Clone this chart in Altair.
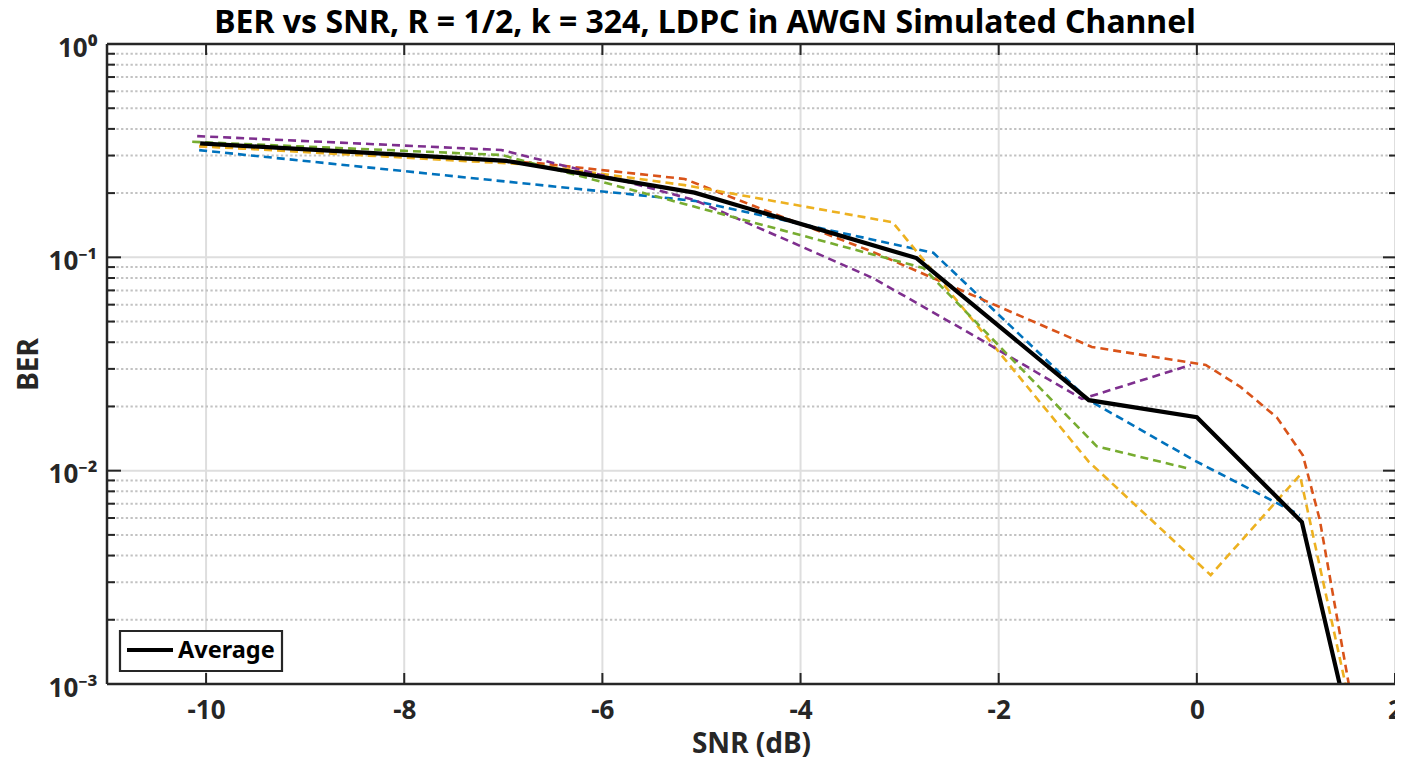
import altair as alt
import pandas as pd

# ---------------- data ----------------
chart_title = ["BER vs SNR, R = 1/2, k = 324, LDPC in AWGN Simulated Channel"]
x_ticks = [-10, -8, -6, -4, -2, 0, 2]
y_major = [1, 0.1, 0.01, 0.001]
y_labels = ["10⁰", "10⁻¹", "10⁻²", "10⁻³"]
y_minor = [0.9, 0.8, 0.7, 0.6, 0.5, 0.4, 0.3, 0.2,
           0.09, 0.08, 0.07, 0.06, 0.05, 0.04, 0.03, 0.02,
           0.009, 0.008, 0.007, 0.006, 0.005, 0.004, 0.003, 0.002]

blue_snr = [-10.07, -5.07, -2.66, -1.09, -0.03, 1.04]
blue_ber = [0.318, 0.184, 0.105, 0.0214, 0.0112, 0.0062]

orange_snr = [-10.07, -8.0, -6.67, -5.17, -4.47, -3.27, -1.06, 0.09, 0.44, 0.81, 1.07, 1.24, 1.56]
orange_ber = [0.332, 0.302, 0.277, 0.233, 0.174, 0.106, 0.038, 0.0313, 0.0247, 0.0177, 0.0118, 0.0059, 0.00085]

yellow_snr = [-10.07, -6.67, -5.17, -3.07, -1.09, 0.14, 1.04, 1.55]
yellow_ber = [0.332, 0.271, 0.218, 0.146, 0.0110, 0.00324, 0.00954, 0.00078]

purple_snr = [-10.09, -7.02, -5.97, -5.07, -4.07, -3.27, -2.26, -1.16, -0.06]
purple_ber = [0.370, 0.3185, 0.2405, 0.1856, 0.1167, 0.0800, 0.0432, 0.0217, 0.0313]

green_snr = [-10.14, -7.02, -2.76, -1.01, -0.09]
green_ber = [0.348, 0.302, 0.0891, 0.0130, 0.01025]

avg_snr = [-10.06, -8.0, -6.97, -5.07, -2.83, -1.09, 0.0, 1.06, 1.51]
avg_ber = [0.342, 0.302, 0.283, 0.201, 0.0992, 0.0214, 0.0178, 0.00574, 0.00073]

series_names = ["Run 1", "Run 2", "Run 3", "Run 4", "Run 5"]
series_colors = ["#0072BD", "#D95319", "#EDB120", "#7E2F8E", "#77AC30"]
legend_labels = ["Average"]

# ---------------- tables ----------------
rows = []
for name, xs, ys in zip(series_names,
                        [blue_snr, orange_snr, yellow_snr, purple_snr, green_snr],
                        [blue_ber, orange_ber, yellow_ber, purple_ber, green_ber]):
    for i, (xv, yv) in enumerate(zip(xs, ys)):
        rows.append({"series": name, "snr": xv, "ber": yv, "i": i})
runs = pd.DataFrame(rows)
avg = pd.DataFrame({"snr": avg_snr, "ber": avg_ber, "i": range(len(avg_snr))})
leg = pd.DataFrame({"label": legend_labels})
ttl = pd.DataFrame({"t": chart_title})

xt = pd.DataFrame({"v": x_ticks})
ymaj = pd.DataFrame({"v": y_major})
ymin = pd.DataFrame({"v": y_minor})

W, H = 1288, 640
AX = "#262626"
FONT = "Noto Sans"

xscale = alt.Scale(domain=[-11, 2], nice=False, zero=False)
yscale = alt.Scale(type="log", domain=[0.001, 1], nice=False)

label_expr = " : ".join(
    f"datum.value >= {v * 0.5} ? '{t}'" for v, t in zip(y_major[:-1], y_labels[:-1])
) + f" : '{y_labels[-1]}'"

# grids
vgrid = alt.Chart(xt).mark_rule(color="#dedede", strokeWidth=2).encode(
    x=alt.X("v:Q", scale=xscale), y=alt.value(0), y2=alt.value(H))
hgrid = alt.Chart(ymaj).mark_rule(color="#dedede", strokeWidth=2).encode(
    y=alt.Y("v:Q", scale=yscale), x=alt.value(0), x2=alt.value(W))
mgrid = alt.Chart(ymin).mark_rule(color="#c2c2c2", strokeWidth=2, strokeDash=[2.3, 2.4]).encode(
    y=alt.Y("v:Q", scale=yscale), x=alt.value(0), x2=alt.value(W))

# dashed runs
runs_layer = alt.Chart(runs).mark_line(strokeWidth=2.6, strokeDash=[8, 5], clip=True).encode(
    x=alt.X("snr:Q", scale=xscale,
            axis=alt.Axis(values=x_ticks, title="SNR (dB)", grid=False, ticks=False, domain=False,
                          labelExpr="'' + datum.value", labelFlush=False,
                          labelPadding=13, titlePadding=7)),
    y=alt.Y("ber:Q", scale=yscale,
            axis=alt.Axis(values=y_major, title="BER", grid=False, ticks=False, domain=False,
                          labelExpr=label_expr, labelPadding=10, labelOffset=4, titlePadding=5)),
    color=alt.Color("series:N", scale=alt.Scale(domain=series_names, range=series_colors), legend=None),
    order="i:Q",
)

avg_layer = alt.Chart(avg).mark_line(strokeWidth=4.2, color="#000000", clip=True).encode(
    x=alt.X("snr:Q", scale=xscale),
    y=alt.Y("ber:Q", scale=yscale),
    order="i:Q",
)

# inward ticks
def hrule(df, x0, x1):
    return alt.Chart(df).mark_rule(color=AX, strokeWidth=2).encode(
        y=alt.Y("v:Q", scale=yscale), x=alt.value(x0), x2=alt.value(x1))

def vrule(df, y0, y1):
    return alt.Chart(df).mark_rule(color=AX, strokeWidth=2).encode(
        x=alt.X("v:Q", scale=xscale), y=alt.value(y0), y2=alt.value(y1))

ticks = [
    hrule(ymaj, 0, 14), hrule(ymin, 0, 8),
    hrule(ymaj, W - 12, W), hrule(ymin, W - 6, W),
    vrule(xt, H - 11, H), vrule(xt, 0, 11),
]

# axes box (left, bottom, top)
box = [
    alt.Chart(leg).mark_rule(color=AX, strokeWidth=2.5).encode(
        x=alt.value(0), y=alt.value(0), y2=alt.value(H)),
    alt.Chart(leg).mark_rule(color=AX, strokeWidth=2.5).encode(
        x=alt.value(0), x2=alt.value(W), y=alt.value(H)),
    alt.Chart(leg).mark_rule(color=AX, strokeWidth=2.5).encode(
        x=alt.value(0), x2=alt.value(W), y=alt.value(0)),
]

# legend box
leg_box = alt.Chart(leg).mark_rect(fill="white", stroke=AX, strokeWidth=2.2).encode(
    x=alt.value(13), x2=alt.value(175), y=alt.value(587), y2=alt.value(627))
leg_line = alt.Chart(leg).mark_rule(color="#000000", strokeWidth=4.2).encode(
    x=alt.value(20), x2=alt.value(66), y=alt.value(606))
leg_text = alt.Chart(leg).mark_text(font=FONT, fontSize=23.5, fontWeight="bold", color="#000000",
                                    align="left", baseline="middle").encode(
    x=alt.value(71), y=alt.value(607), text="label:N")

# chart title (placed above the axes box)
title_text = alt.Chart(ttl).mark_text(font=FONT, fontSize=32, fontWeight="bold", color="#000000",
                                      align="center", baseline="alphabetic").encode(
    x=alt.value(W / 2 - 46), y=alt.value(-11), text="t:N")

chart = alt.layer(
    vgrid, hgrid, mgrid, runs_layer, avg_layer, *ticks, *box, leg_box, leg_line, leg_text, title_text,
).properties(
    width=W, height=H,
    autosize=alt.AutoSizeParams(type="none"),
    padding={"left": 99, "top": 36, "right": 0, "bottom": 74},
).configure_view(
    stroke=None
).configure_axis(
    labelFont=FONT, labelFontSize=26, labelFontWeight="bold", labelColor=AX,
    titleFont=FONT, titleFontSize=28, titleFontWeight="bold", titleColor=AX,
)

chart.save("out.html", embed_options={"renderer": "svg", "actions": False})
